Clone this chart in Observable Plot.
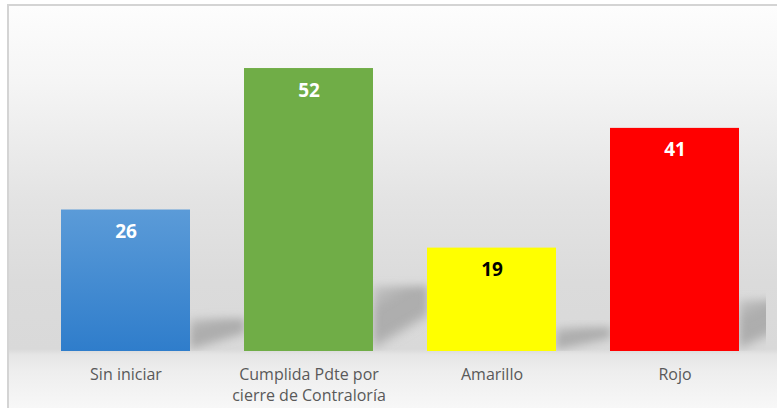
<!DOCTYPE html>
<html><head><meta charset="utf-8">
<script src="https://cdn.jsdelivr.net/npm/d3@7"></script>
<script src="https://cdn.jsdelivr.net/npm/@observablehq/plot@0.6"></script>
<style>
html,body{margin:0;padding:0;width:777px;height:408px;overflow:hidden;background:#fff;}
#frame{position:absolute;left:7px;top:4px;width:800px;height:420px;box-sizing:border-box;
border-left:2px solid #d4d4d4;border-top:2px solid #d4d4d4;
background:linear-gradient(to bottom,#fdfdfd 0px,#f5f5f5 76px,#ececec 136px,#e3e3e3 196px,#dbdbdb 276px,#d9d9d9 343px,#e6e6e6 349px,#eeeeee 366px,#f8f8f8 404px);}
#chart{position:absolute;left:0;top:0;}
</style></head>
<body>
<div id="frame"></div>
<div id="chart"></div>
<script>
const categories = ["Sin iniciar", "Cumplida Pdte por\ncierre de Contraloría", "Amarillo", "Rojo"];
const values = [26, 52, 19, 41];
const barFills = ["url(#blueGrad)", "#70ad47", "#ffff00", "#ff0000"];
const labelFills = ["#ffffff", "#ffffff", "#000000", "#ffffff"];

const data = categories.map((c, i) => ({cat: c, value: values[i], labelFill: labelFills[i]}));

const svg = Plot.plot({
  width: 777,
  height: 408,
  marginLeft: 33,
  marginRight: 11,
  marginTop: 24.5,
  marginBottom: 57,
  style: {background: "transparent", overflow: "visible"},
  x: {domain: categories, paddingInner: 0.296, paddingOuter: 0.148, axis: null},
  y: {domain: [0, 60], axis: null},
  color: {domain: categories, range: barFills},
  marks: [
    Plot.barY(data, {x: "cat", y1: 0, y2: d => d.value * 0.23, insetLeft: 74, dx: 55, fill: "url(#shadowGrad)", clip: true}),
    Plot.barY(data, {x: "cat", y: "value", fill: "cat"}),
    Plot.text(data, {x: "cat", y: "value", text: d => String(d.value), dy: 22, fill: "labelFill",
      fontSize: 19, fontWeight: "bold", fontFamily: "Open Sans", lineAnchor: "middle"}),
    Plot.text(data, {x: "cat", y: 0, text: "cat", dy: 14, lineAnchor: "top", fill: "#595959",
      fontSize: 16, fontFamily: "Open Sans", lineHeight: 1.28})
  ]
});

const s = d3.select(svg);
const defs = s.insert("defs", ":first-child");
const bg = defs.append("linearGradient").attr("id", "blueGrad").attr("x1", 0).attr("y1", 0).attr("x2", 0).attr("y2", 1);
bg.append("stop").attr("offset", 0).attr("stop-color", "#5b9bd8");
bg.append("stop").attr("offset", 1).attr("stop-color", "#2f7dcb");
const sg = defs.append("linearGradient").attr("id", "shadowGrad").attr("x1", 0).attr("y1", 0).attr("x2", 0.5).attr("y2", 1);
sg.append("stop").attr("offset", 0).attr("stop-color", "#9a9a9a").attr("stop-opacity", 0.3);
sg.append("stop").attr("offset", 0.35).attr("stop-color", "#9a9a9a").attr("stop-opacity", 0.7);
sg.append("stop").attr("offset", 0.68).attr("stop-color", "#9a9a9a").attr("stop-opacity", 0.7);
sg.append("stop").attr("offset", 0.84).attr("stop-color", "#9a9a9a").attr("stop-opacity", 0);
const f = defs.append("filter").attr("id", "blur").attr("x", "-30%").attr("y", "-30%").attr("width", "160%").attr("height", "160%");
f.append("feGaussianBlur").attr("stdDeviation", 4);
s.selectAll('[fill="url(#shadowGrad)"]').each(function() {
  const el = d3.select(this);
  if (this.tagName === "rect") el.attr("filter", "url(#blur)");
  else el.selectAll("rect").attr("filter", "url(#blur)");
});

document.getElementById("chart").appendChild(svg);
</script>
</body></html>
